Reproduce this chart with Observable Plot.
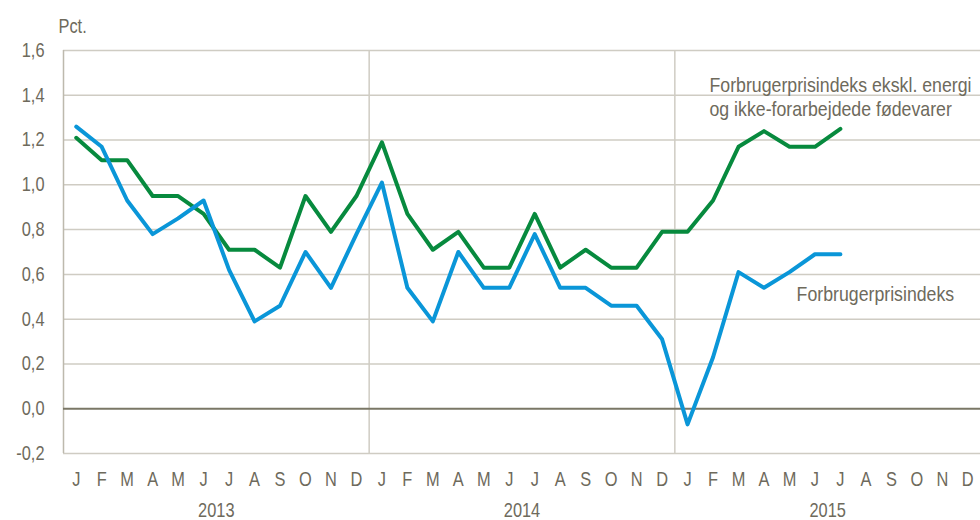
<!DOCTYPE html>
<html><head><meta charset="utf-8">
<script src="https://cdn.jsdelivr.net/npm/d3@7"></script>
<script src="https://cdn.jsdelivr.net/npm/@observablehq/plot@0.6"></script>
<style>body{margin:0;background:#fff}</style>
</head><body><div id="chart"></div>
<script>
const monthLetters = ["J","F","M","A","M","J","J","A","S","O","N","D"];
const years = ["2013","2014","2015"];
// Forbrugerprisindeks, Jan 2013 - Jul 2015
const cpi = [1.26,1.17,0.93,0.78,0.85,0.93,0.62,0.39,0.46,0.70,0.54,0.78,
             1.01,0.54,0.39,0.70,0.54,0.54,0.78,0.54,0.54,0.46,0.46,0.31,
             -0.07,0.23,0.61,0.54,0.61,0.69,0.69];
// Forbrugerprisindeks ekskl. energi og ikke-forarbejdede fødevarer
const core = [1.21,1.11,1.11,0.95,0.95,0.87,0.71,0.71,0.63,0.95,0.79,0.95,
              1.19,0.87,0.71,0.79,0.63,0.63,0.87,0.63,0.71,0.63,0.63,0.79,
              0.79,0.93,1.17,1.24,1.17,1.17,1.25];
const yTicks = [-0.2,0,0.2,0.4,0.6,0.8,1.0,1.2,1.4,1.6];
const labelCore = ["Forbrugerprisindeks ekskl. energi", "og ikke-forarbejdede fødevarer"];
const labelCpi = "Forbrugerprisindeks";
const unitLabel = "Pct.";

const cpiRows = cpi.map((v, i) => ({i, v}));
const coreRows = core.map((v, i) => ({i, v}));
const monthIdx = d3.range(years.length * 12);
const yearCenters = years.map((y, k) => k * 12 + 5.5);
const yearBounds = years.slice(1).map((y, k) => (k + 1) * 12 - 0.5);
const fmt = v => d3.format(".1f")(v).replace(".", ",").replace("\u2212", "-");

const textColor = "#6e6a5c";
const gridColor = "#cfccc3";

const chart = Plot.plot({
  width: 980, height: 520,
  marginLeft: 63, marginRight: 0, marginTop: 50, marginBottom: 67,
  style: {fontFamily: "'Liberation Sans',Arial,sans-serif", fontSize: "20px", color: textColor, background: "#fff"},
  x: {type: "linear", domain: [-0.5, 35.5], axis: null},
  y: {domain: [-0.2, 1.6], axis: null},
  marks: [
    Plot.ruleY(yTicks.filter(d => d !== 0), {stroke: gridColor, strokeWidth: 1.5}),
    Plot.ruleX(yearBounds, {stroke: gridColor, strokeWidth: 1.5}),
    Plot.ruleX([-0.5], {stroke: "#bdb9ad", strokeWidth: 1.5}),
    Plot.ruleY([0], {stroke: "#7a7766", strokeWidth: 2}),
    Plot.axisY(yTicks, {tickSize: 0, tickPadding: 19, tickFormat: fmt, label: null, fontSize: 20, className: "narrow"}),
    Plot.axisX(monthIdx, {tickSize: 0, tickPadding: 18, tickFormat: i => monthLetters[i % 12], label: null, fontSize: 20, className: "narrow"}),
    Plot.axisX(yearCenters, {tickSize: 0, tickPadding: 49, tickFormat: (d, k) => years[k], label: null, fontSize: 20, className: "narrow"}),
    Plot.line(coreRows, {x: "i", y: "v", stroke: "#078a3e", strokeWidth: 4, curve: "linear"}),
    Plot.line(cpiRows, {x: "i", y: "v", stroke: "#0a96d8", strokeWidth: 4, curve: "linear"}),
    Plot.text([labelCore.join("\n")], {x: 24.86, y: 1.488, text: d => d, textAnchor: "start", lineAnchor: "top", lineHeight: 1.15, fill: textColor, fontSize: 20.5, className: "lbl"}),
    Plot.text([labelCpi], {x: 28.28, y: 0.546, text: d => d, textAnchor: "start", lineAnchor: "top", fill: textColor, fontSize: 20.5, className: "lbl"}),
    Plot.text([unitLabel], {x: -0.5, dx: -5, y: 1.743, text: d => d, textAnchor: "start", lineAnchor: "top", fill: textColor, fontSize: 20, className: "narrow"})
  ]
});
document.getElementById("chart").appendChild(chart);
// Emulate the condensed (Arial Narrow-like) face of the reference by compressing text horizontally
// around each text's own anchor point.
chart.querySelectorAll("text").forEach(el => {
  const inLabel = el.closest(".lbl") !== null;
  const k = inLabel ? 0.865 : 0.82;
  const x = parseFloat(el.getAttribute("x")) || 0;
  const t = el.getAttribute("transform") || "";
  el.setAttribute("transform", `${t} translate(${x},0) scale(${k},1) translate(${-x},0)`);
});
</script>
</body></html>
